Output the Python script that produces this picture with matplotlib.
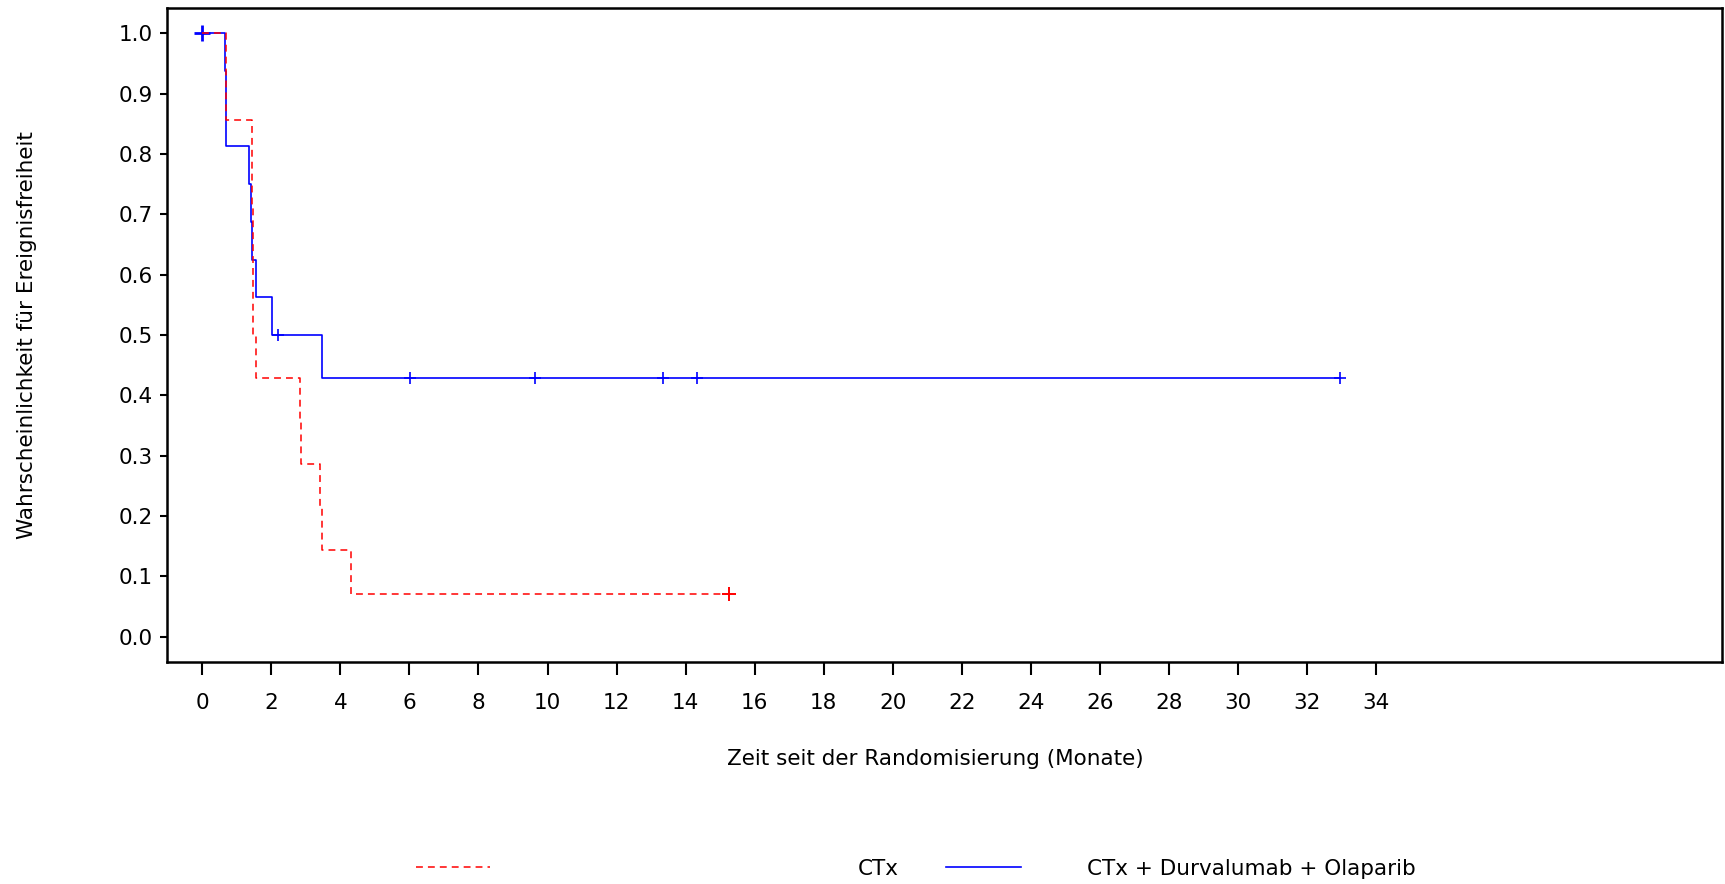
import matplotlib
matplotlib.use("Agg")
import matplotlib.pyplot as plt
from matplotlib.lines import Line2D

# Kaplan-Meier Stufen
t_ctx = [0, 0.70, 1.43, 1.46, 1.57, 2.83, 2.86, 3.40, 3.48, 4.30, 15.27]
s_ctx = [1.0, 0.857, 0.714, 0.5, 0.4286, 0.357, 0.286, 0.214, 0.143, 0.0714, 0.0714]
cens_t_ctx = [15.27]
cens_s_ctx = [0.0714]

t_dur = [0, 0.65, 0.68, 0.70, 1.35, 1.41, 1.45, 1.56, 2.02, 3.47, 32.95]
s_dur = [1.0, 0.9375, 0.875, 0.8125, 0.75, 0.6875, 0.625, 0.5625, 0.5, 0.4286, 0.4286]
cens_t_dur = [2.2, 6.03, 9.65, 13.35, 14.34, 32.95]
cens_s_dur = [0.5, 0.4286, 0.4286, 0.4286, 0.4286, 0.4286]

labels = ["CTx", "CTx + Durvalumab + Olaparib"]
xticks = list(range(0, 35, 2))
yticks = [i / 10 for i in range(11)]

fig = plt.figure(figsize=(17.25, 8.84), dpi=100)
ax = fig.add_axes([0.0968, 0.251, 0.9012, 0.740])

ax.step(t_dur, s_dur, where="post", color="blue", lw=1.2)
ax.plot([0], [1.0], marker="+", color="blue", ms=11, mew=2, ls="none")
ax.plot(cens_t_dur, cens_s_dur, marker="+", color="blue", ms=9, mew=1.2, ls="none")

ax.step(t_ctx, s_ctx, where="post", color="red", lw=1.1, dashes=(4.5, 3.3))
ax.plot(cens_t_ctx, cens_s_ctx, marker="+", color="red", ms=10, mew=1.4, ls="none")

ax.set_xlim(-1.02, 44)
ax.set_ylim(-0.042, 1.042)
ax.set_xticks(xticks)
ax.set_yticks(yticks)
ax.set_yticklabels([f"{v:.1f}" for v in yticks])
ax.tick_params(labelsize=15.5, width=1.5, direction="out")
ax.tick_params(axis="y", length=5, pad=5)
ax.tick_params(axis="x", length=9, pad=13)
for sp in ax.spines.values():
    sp.set_linewidth(1.8)

ax.set_xlabel("Zeit seit der Randomisierung (Monate)", fontsize=15.5)
ax.set_ylabel("Wahrscheinlichkeit für Ereignisfreiheit", fontsize=15.5)
ax.xaxis.set_label_coords(0.494, -0.148)
ax.yaxis.set_label_coords(-0.09, 0.5)
ax.xaxis.label.set_va("center")
ax.yaxis.label.set_va("center")

# Legende unten, wie in der Vorlage frei gesetzt
fig.add_artist(Line2D([416 / 1725, 490 / 1725], [0.019, 0.019], color="red",
                      lw=1.1, dashes=(4.5, 3.3)))
fig.text(858 / 1725, 0.017, labels[0], fontsize=15.5, va="center")
fig.add_artist(Line2D([946 / 1725, 1021 / 1725], [0.019, 0.019], color="blue", lw=1.2))
fig.text(1087 / 1725, 0.017, labels[1], fontsize=15.5, va="center")

fig.savefig("out.png", dpi=100)
